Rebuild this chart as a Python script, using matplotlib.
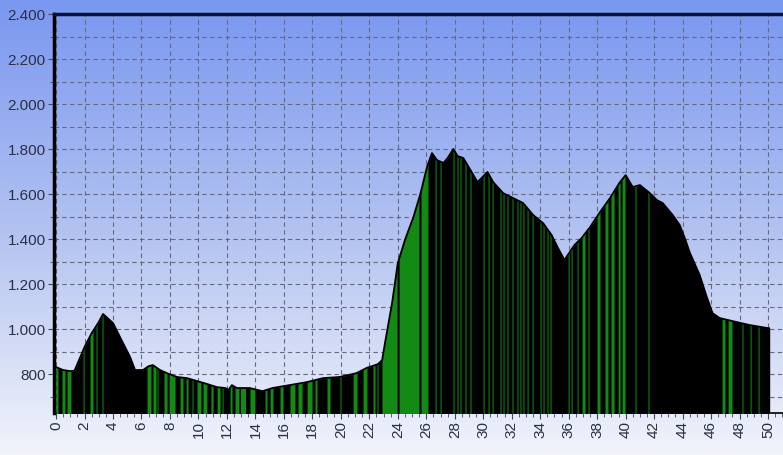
import matplotlib
matplotlib.use("Agg")
import matplotlib.pyplot as plt
import numpy as np
from matplotlib.colors import LinearSegmentedColormap
from matplotlib.ticker import FuncFormatter, MultipleLocator

# elevation profile (km, m)
km = [0.0, 0.5, 1.0, 1.3, 2.0, 2.5, 3.0, 3.3, 4.0, 4.6, 5.2, 5.55, 6.1, 6.5, 6.8,
      7.3, 7.8, 8.5, 9.2, 9.9, 10.6, 11.3, 11.9, 12.1, 12.35, 12.7, 13.6, 14.5,
      15.2, 16.4, 17.6, 18.75, 19.9, 21.1, 21.8, 22.6, 22.9, 23.1, 23.6, 24.0,
      24.5, 25.1, 25.6, 26.05, 26.4, 26.75, 27.2, 27.5, 27.9, 28.2, 28.6, 29.1,
      29.6, 30.3, 30.7, 31.4, 32.1, 32.8, 33.5, 34.2, 34.8, 35.25, 35.7, 36.4,
      36.9, 37.5, 38.2, 38.9, 39.6, 40.0, 40.5, 41.0, 41.7, 42.2, 42.6, 43.3,
      43.8, 44.2, 44.5, 45.2, 45.7, 46.1, 46.6, 47.8, 48.7, 50.0, 50.05]
elev = [831, 818, 813, 815, 920, 982, 1031, 1067, 1027, 951, 876, 818, 818, 835, 840,
        818, 804, 787, 782, 769, 756, 742, 738, 729, 751, 738, 738, 724,
        738, 751, 764, 782, 787, 804, 827, 844, 862, 938, 1116, 1293,
        1396, 1498, 1604, 1720, 1782, 1751, 1738, 1760, 1800, 1769, 1760, 1707,
        1653, 1698, 1653, 1604, 1582, 1560, 1507, 1471, 1418, 1360, 1307, 1373,
        1404, 1453, 1520, 1582, 1653, 1684, 1631, 1640, 1604, 1573, 1560, 1507,
        1462, 1396, 1340, 1240, 1142, 1071, 1049, 1031, 1018, 1004, 1004]

# visible green segments (start km, end km)
green_start = [0.0, 0.42, 0.77, 1.9, 2.39, 2.81, 3.23, 6.39, 6.81, 7.09, 7.58, 7.94,
               8.71, 9.13, 9.55, 9.9, 10.32, 10.88, 11.31, 11.66, 12.22, 12.57, 12.99,
               13.62, 14.68, 15.03, 15.73, 16.43, 16.99, 17.63, 18.19, 19.03, 19.94,
               20.86, 21.56, 22.26, 22.54, 22.89, 24.09, 25.63, 26.62, 26.97, 27.88,
               28.16, 28.37, 28.72, 29.07, 29.99, 30.34, 30.62, 31.18, 31.39, 31.67,
               32.02, 32.37, 32.58, 32.79, 33.08, 33.43, 33.99, 34.2, 34.48, 34.69,
               35.96, 36.17, 36.59, 36.94, 37.36, 37.99, 38.55, 38.97, 39.47, 39.75,
               40.66, 41.57, 46.77, 47.19, 48.17, 48.74, 49.3]
green_end = [0.14, 0.63, 1.05, 1.97, 2.6, 2.88, 3.3, 6.67, 7.02, 7.16, 7.8, 8.36,
             8.92, 9.27, 9.62, 10.18, 10.6, 11.03, 11.52, 11.73, 12.36, 12.85, 13.34,
             13.97, 14.82, 15.24, 15.94, 16.78, 17.28, 17.98, 18.33, 19.24, 20.01,
             21.14, 21.84, 22.4, 22.61, 23.95, 25.49, 26.12, 26.69, 27.04, 27.95,
             28.23, 28.44, 28.79, 29.14, 30.06, 30.41, 30.69, 31.25, 31.46, 31.74,
             32.09, 32.44, 32.65, 32.86, 33.15, 33.5, 34.06, 34.27, 34.55, 34.76,
             36.03, 36.24, 36.66, 37.15, 37.43, 38.2, 38.76, 39.19, 39.61, 39.96,
             40.73, 41.64, 46.98, 47.47, 48.24, 48.81, 49.37]

x_ticks = list(range(0, 51, 2))
y_ticks = [800, 1000, 1200, 1400, 1600, 1800, 2000, 2200, 2400]

Y_MIN, Y_MAX = 627, 2400
GREEN = "#138a13"

fig = plt.figure(figsize=(7.83, 4.55), dpi=100)

# gradient background over the whole figure
bg = fig.add_axes([0, 0, 1, 1], zorder=-10)
bg.axis("off")
grad_cmap = LinearSegmentedColormap.from_list("bg", ["#7a97f0", "#b2c2f0", "#f2f4fb"])
bg.imshow(np.linspace(0, 1, 256).reshape(-1, 1), aspect="auto", cmap=grad_cmap,
          extent=[0, 1, 0, 1])

ax = fig.add_axes([0.069, 0.0923, 0.931, 0.8769])
ax.patch.set_visible(False)

x = np.array(km)
y = np.array(elev)
ax.fill_between(x, y, Y_MIN - 50, color="black", lw=0, zorder=3)
for a, b in zip(green_start, green_end):
    xs = np.array([a, b])
    ax.fill_between(xs, np.interp(xs, x, y), Y_MIN - 50, color=GREEN, lw=0, zorder=4)
ax.plot(x, y, color="black", lw=1.3, zorder=5)
ax.plot([x[-1], x[-1]], [Y_MIN, y[-1]], color="black", lw=1.0, zorder=5)

ax.set_xlim(-0.14, 51.05)
ax.set_ylim(Y_MIN, Y_MAX)

ax.set_xticks(x_ticks)
ax.set_xticklabels([str(t) for t in x_ticks], rotation=90)
ax.xaxis.set_minor_locator(MultipleLocator(0.5))
ax.set_yticks(y_ticks)
ax.yaxis.set_major_formatter(FuncFormatter(lambda v, p: f"{int(v):,}".replace(",", ".")))
ax.set_yticks(np.arange(700, 2400, 100), minor=True)

ax.grid(True, which="major", axis="x", color="#646a80", lw=0.8, ls=(0, (4, 3)), zorder=1)
ax.grid(True, which="both", axis="y", color="#646a80", lw=0.8, ls=(0, (4, 3)), zorder=1)
ax.set_axisbelow(True)

ax.tick_params(axis="both", which="major", length=4, width=0.8, color="#404860",
               labelsize=11, labelcolor="#2a3045", pad=2)
ax.tick_params(axis="both", which="minor", length=3, width=0.6, color="#404860")
for lab in ax.get_xticklabels() + ax.get_yticklabels():
    lab.set_family("Liberation Sans")

ax.spines["right"].set_visible(False)
ax.spines["left"].set_linewidth(2.5)
ax.spines["left"].set_color("black")
ax.spines["top"].set_linewidth(2.5)
ax.spines["top"].set_color("#0c1236")
ax.spines["bottom"].set_linewidth(1.2)
ax.spines["bottom"].set_color("black")

fig.savefig("out.png", dpi=100)
